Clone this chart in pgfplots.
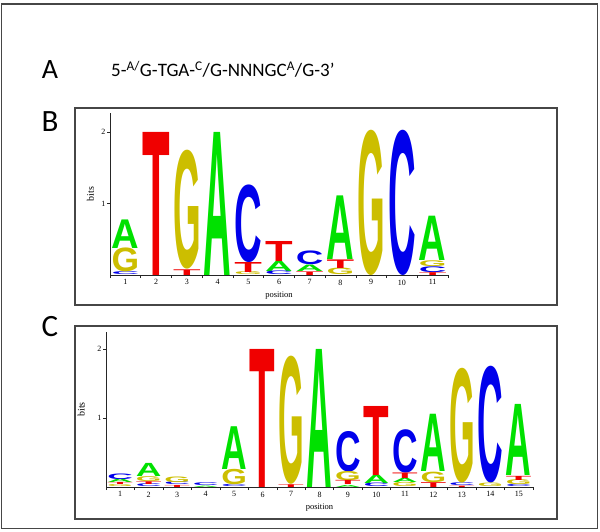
\documentclass[border=0pt]{standalone}
\usepackage{fontspec}
\setmainfont{Liberation Serif}
\newfontfamily\calibri{Carlito}
\newfontfamily\logofont{Liberation Sans}
\usepackage{graphicx}
\usepackage{pgfplots}
\usepackage{pgfplotstable}
\pgfplotsset{compat=1.18}
\definecolor{lA}{RGB}{0,225,0}
\definecolor{lC}{RGB}{0,0,235}
\definecolor{lG}{RGB}{204,190,0}
\definecolor{lT}{RGB}{240,0,0}
\definecolor{frame}{RGB}{70,70,70}
\newcommand\logoA{\textcolor{lA}{\logofont\bfseries A}}
\newcommand\logoC{\textcolor{lC}{\logofont\bfseries C}}
\newcommand\logoG{\textcolor{lG}{\logofont\bfseries G}}
\newcommand\logoT{\textcolor{lT}{\logofont\bfseries T}}
% stretched letter: #1 width, #2 height (pt number), #3 letter macro
\newcommand\stretchletter[3]{%
  \sbox0{#3}%
  \ifdim\ht0>0pt\relax
    \ifdim #2pt>0pt\relax\resizebox{#1}{#2pt}{\usebox0}\fi
  \fi}

% L: 1=A 2=C 3=G 4=T
\pgfplotstableread{
x b h L
1 0 0.04 2
1 0.04 0.33 3
1 0.37 0.40 1
2 0 2.0 4
3 0 0.08 4
3 0.08 1.64 3
4 0 2.0 1
5 0 0.04 3
5 0.04 0.14 4
5 0.18 1.07 2
6 0 0.05 2
6 0.05 0.14 1
6 0.19 0.28 4
7 0 0.05 4
7 0.05 0.09 1
7 0.14 0.19 2
8 0 0.09 3
8 0.09 0.12 4
8 0.21 0.89 1
9 0 2.0 3
10 0 2.0 2
11 0 0.04 4
11 0.04 0.08 2
11 0.12 0.08 3
11 0.20 0.62 1
}\dataB

\pgfplotstableread{
x b h L
1 0 0.03 3
1 0.03 0.03 4
1 0.06 0.05 1
1 0.11 0.08 2
2 0 0.04 2
2 0.04 0.04 4
2 0.08 0.07 3
2 0.15 0.19 1
3 0 0.03 4
3 0.03 0.04 2
3 0.07 0.08 3
4 0 0.02 1
4 0.02 0.04 2
5 0 0.03 2
5 0.03 0.22 3
5 0.25 0.62 1
6 0 2.0 4
7 0 0.04 4
7 0.04 1.83 3
8 0 2.0 1
9 0 0.03 1
9 0.03 0.06 4
9 0.09 0.13 3
9 0.22 0.58 2
10 0 0.05 2
10 0.05 0.12 1
10 0.17 1.0 4
11 0 0.06 3
11 0.06 0.06 1
11 0.12 0.08 4
11 0.20 0.62 2
12 0 0.07 4
12 0.07 0.15 3
12 0.22 0.83 1
13 0 0.02 4
13 0.02 0.04 2
13 0.06 1.64 3
14 0 0.05 3
14 0.05 1.67 2
15 0 0.03 2
15 0.03 0.07 3
15 0.10 0.06 4
15 0.16 1.03 1
}\dataC

\pgfplotsset{
  logo/.style={
    scale only axis,
    anchor=south west,
    axis x line=bottom, axis y line=left,
    axis line style={-, black!85, line width=0.6pt},
    ymin=0,
    ytick={1,2},
    major tick length=3pt,
    minor tick length=3pt,
    tick align=outside,
    major x tick style={draw=none},
    minor x tick style={black!85, line width=0.6pt},
    ytick style={black!85, line width=0.6pt},
    /pgf/number format/assume math mode=true,
    ticklabel style={font=\fontsize{8}{9}\selectfont, inner sep=1.5pt},
    xlabel={position}, ylabel={bits},
    xlabel style={font=\fontsize{8.5}{10}\selectfont, inner sep=1pt, yshift=-4pt},
    ylabel style={font=\fontsize{7}{8}\selectfont},
    every axis y label/.style={at={(axis description cs:-0.058,0.5)}, rotate=90, anchor=center},
    every node near coord/.append style={anchor=south, inner sep=0pt, outer sep=0pt},
  },
  letter/.style n args={3}{draw=none, mark=none,
    restrict expr to domain={\thisrow{L}}{#1:#1},
    visualization depends on={\thisrow{h}*#3 \as \hh},
    nodes near coords={\stretchletter{#2}{\hh}{\csname logo\ifcase#1\or A\or C\or G\or T\fi\endcsname}}},
}

\begin{document}
\begin{tikzpicture}
\useasboundingbox (0pt,0pt) rectangle (600pt,531pt);
\draw[line width=1.6pt, frame] (1.5pt,2.5pt) rectangle (597.5pt,527pt);
\draw[line width=1.1pt, frame] (75pt,226pt) rectangle (557pt,423pt);
\draw[line width=1.1pt, frame] (75pt,12pt) rectangle (557pt,205pt);
\node[font=\calibri\fontsize{28}{30}\selectfont] at (50pt,461pt) {A};
\node[font=\calibri\fontsize{19}{21}\selectfont, anchor=west, inner sep=0pt] at (111pt,462pt) {5-\textsuperscript{A/}G-TGA-\textsuperscript{C}/G-NNNGC\textsuperscript{A}/G-3’};
\node[font=\calibri\fontsize{31}{33}\selectfont] at (50pt,409pt) {B};
\node[font=\calibri\fontsize{31}{33}\selectfont] at (50pt,204pt) {C};

\begin{axis}[logo, at={(110pt,256pt)}, width=338pt, height=162pt,
  xmin=0.5, xmax=11.5, ymax=2.2657,
  xtick={1,...,11}, minor xtick={0.5,1.5,...,11.5}]
\addplot[letter={1}{27.6pt}{71.5}] table[x=x, y=b] {\dataB};
\addplot[letter={2}{27.6pt}{71.5}] table[x=x, y=b] {\dataB};
\addplot[letter={3}{27.6pt}{71.5}] table[x=x, y=b] {\dataB};
\addplot[letter={4}{27.6pt}{71.5}] table[x=x, y=b] {\dataB};
\end{axis}

\begin{axis}[logo, at={(106pt,44pt)}, width=427pt, height=155pt,
  xmin=0.5, xmax=15.5, ymax=2.2464,
  xtick={1,...,15}, minor xtick={0.5,1.5,...,15.5}]
\addplot[letter={1}{25.6pt}{69}] table[x=x, y=b] {\dataC};
\addplot[letter={2}{25.6pt}{69}] table[x=x, y=b] {\dataC};
\addplot[letter={3}{25.6pt}{69}] table[x=x, y=b] {\dataC};
\addplot[letter={4}{25.6pt}{69}] table[x=x, y=b] {\dataC};
\end{axis}
\end{tikzpicture}
\end{document}
